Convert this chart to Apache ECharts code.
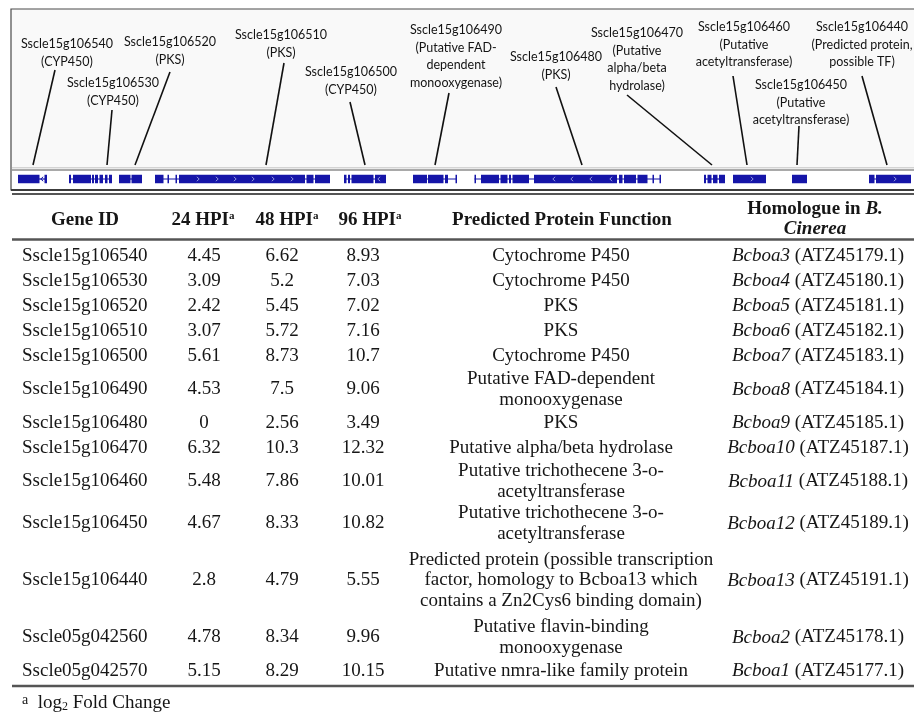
<!DOCTYPE html>
<html>
<head>
<meta charset="utf-8">
<script src="https://cdn.jsdelivr.net/npm/echarts@6/dist/echarts.min.js"></script>
<style>
  html, body { margin: 0; padding: 0; background: #ffffff; }
  #main { width: 914px; height: 713px; }
</style>
</head>
<body>
<div id="main"></div>
<script>
// ---- Gene models along the locus (track position units) ----
const exons106540 = [[18, 39.5], [44.5, 47]];
const exons106530 = [[69, 71], [73, 91], [92, 94], [95, 98], [99.5, 103], [105, 107.5], [109, 112]];
const exons106520 = [[119, 130.5], [131.5, 142]];
const exons106510 = [[155, 163.5], [167.5, 169], [175.5, 177], [179, 305], [306.5, 313.5], [315, 330]];
const exons106500 = [[344, 346.5], [348, 350], [351.5, 373.5], [375, 386]];
const exons106490 = [[413, 427], [428, 443.5], [445, 448], [455.5, 457]];
const exons106480 = [[474.5, 476], [481, 499], [500.5, 507.5], [509, 511], [512.5, 529], [534, 617],
                     [619, 622.5], [624, 636], [637.5, 647.5], [652.5, 654], [659.5, 661]];
const exons106470 = [[704, 706], [707.5, 711.5], [713, 717.5], [719, 725]];
const exons106460 = [[733, 766]];
const exons106450 = [[792, 807]];
const exons106440 = [[869, 874.5], [876, 911]];
const trackGenes = [exons106540, exons106530, exons106520, exons106510, exons106500, exons106490,
                    exons106480, exons106470, exons106460, exons106450, exons106440];

// strand chevrons: [position, direction]
const strandArrows = [[42, -1], [198, 1], [217, 1], [235, 1], [253, 1], [273, 1], [292, 1], [379, -1],
                      [554, -1], [572, -1], [591, -1], [611, -1], [752, 1], [895, 1]];

// callout anchor on the track for each annotated gene
const calloutAnchors = [33, 107, 135, 266, 365, 435, 582, 712, 747, 797, 887];
const calloutText = [
  ['Sscle15g106540', '(CYP450)'],
  ['Sscle15g106530', '(CYP450)'],
  ['Sscle15g106520', '(PKS)'],
  ['Sscle15g106510', '(PKS)'],
  ['Sscle15g106500', '(CYP450)'],
  ['Sscle15g106490', '(Putative FAD-', 'dependent', 'monooxygenase)'],
  ['Sscle15g106480', '(PKS)'],
  ['Sscle15g106470', '(Putative', 'alpha/beta', 'hydrolase)'],
  ['Sscle15g106460', '(Putative', 'acetyltransferase)'],
  ['Sscle15g106450', '(Putative', 'acetyltransferase)'],
  ['Sscle15g106440', '(Predicted protein,', 'possible TF)']
];

// ---- Expression table ----
const geneIds = ['Sscle15g106540', 'Sscle15g106530', 'Sscle15g106520', 'Sscle15g106510', 'Sscle15g106500',
                 'Sscle15g106490', 'Sscle15g106480', 'Sscle15g106470', 'Sscle15g106460', 'Sscle15g106450',
                 'Sscle15g106440', 'Sscle05g042560', 'Sscle05g042570'];
const hpi24 = [4.45, 3.09, 2.42, 3.07, 5.61, 4.53, 0, 6.32, 5.48, 4.67, 2.8, 4.78, 5.15];
const hpi48 = [6.62, 5.2, 5.45, 5.72, 8.73, 7.5, 2.56, 10.3, 7.86, 8.33, 4.79, 8.34, 8.29];
const hpi96 = [8.93, 7.03, 7.02, 7.16, 10.7, 9.06, 3.49, 12.32, 10.01, 10.82, 5.55, 9.96, 10.15];
const proteinFunction = [
  ['Cytochrome P450'],
  ['Cytochrome P450'],
  ['PKS'],
  ['PKS'],
  ['Cytochrome P450'],
  ['Putative FAD-dependent', 'monooxygenase'],
  ['PKS'],
  ['Putative alpha/beta hydrolase'],
  ['Putative trichothecene 3-o-', 'acetyltransferase'],
  ['Putative trichothecene 3-o-', 'acetyltransferase'],
  ['Predicted protein (possible transcription', 'factor, homology to Bcboa13 which', 'contains a Zn2Cys6 binding domain)'],
  ['Putative flavin-binding', 'monooxygenase'],
  ['Putative nmra-like family protein']
];
const homologueGene = ['Bcboa3', 'Bcboa4', 'Bcboa5', 'Bcboa6', 'Bcboa7', 'Bcboa8', 'Bcboa9',
                       'Bcboa10', 'Bcboa11', 'Bcboa12', 'Bcboa13', 'Bcboa2', 'Bcboa1'];
const homologueAccession = ['ATZ45179.1', 'ATZ45180.1', 'ATZ45181.1', 'ATZ45182.1', 'ATZ45183.1',
                            'ATZ45184.1', 'ATZ45185.1', 'ATZ45187.1', 'ATZ45188.1', 'ATZ45189.1',
                            'ATZ45191.1', 'ATZ45178.1', 'ATZ45177.1'];
const headerLabels = ['Gene ID', '24 HPI', '48 HPI', '96 HPI', 'Predicted Protein Function'];

// ---- Layout ----
const W = 914, H = 713;
const EXON_COLOR = '#1515a8';
const TRACK_Y = 179, EXON_H = 8.5, LEADER_END_Y = 165;
const SANS = 'Lato, "Open Sans", sans-serif';
const SERIF = '"Liberation Serif", "Times New Roman", serif';
const TEXT_COLOR = '#161616';
const RULE_COLOR = '#555555';
// label centre x, first line y, leader start x, leader start y
const calloutLayout = [[67, 44, 55, 70], [113, 83, 112, 110], [170, 42, 170, 72], [281, 35, 284, 63],
                       [351, 72, 350, 102], [456, 30, 449, 93], [556, 57, 556, 87], [637, 33, 627, 95],
                       [744, 27, 733, 76], [801, 85, 799, 126], [862, 27, 862, 76]];
const CALLOUT_LH = 17.5;
const TABLE_TOP_RULE = 194, HEADER_RULE = 239.5, FIRST_ROW_TOP = 243.5;
const COL_GENE_X = 22, COL_24 = 204, COL_48 = 282, COL_96 = 363, COL_FUNC = 561, COL_HOMO = 818;
const FONT_SIZE = 19, CELL_LH = 20.5;
// row height by number of text lines in the row
const ROW_H_BY_LINES = { 1: 25, 2: 42, 3: 72 };

const rowCenters = [];
let acc = FIRST_ROW_TOP;
proteinFunction.forEach(f => { const h = ROW_H_BY_LINES[f.length]; rowCenters.push(acc + h / 2); acc += h; });
const tableBottom = acc + 2.5;

// flattened exon list
const exonData = [];
trackGenes.forEach((ex, g) => ex.forEach(e => exonData.push([e[0], e[1], g])));
const backboneData = trackGenes.map((ex, g) => [ex[0][0], ex[ex.length - 1][1], g]);
function insideExon(p) { return exonData.some(e => p >= e[0] && p <= e[1]); }

const chart = echarts.init(document.getElementById('main'), null, { renderer: 'canvas' });

const option = {
  animation: false,
  backgroundColor: '#ffffff',
  grid: { left: 0, right: 0, top: 0, bottom: 0 },
  xAxis: { type: 'value', min: 0, max: W, show: false },
  yAxis: { type: 'value', min: 0, max: H, inverse: true, show: false },
  graphic: [
    // annotation panel
    { type: 'rect', z: 0, shape: { x: 11, y: 9, width: W + 20, height: 181 },
      style: { fill: '#f9f9f9', stroke: '#4a4a4a', lineWidth: 1.2 } },
    { type: 'rect', z: 0, shape: { x: 12, y: 170.5, width: W, height: 18.5 }, style: { fill: '#ffffff' } },
    { type: 'line', z: 1, shape: { x1: 12, y1: 167.8, x2: W, y2: 167.8 }, style: { stroke: '#c6c6c6', lineWidth: 1 } },
    { type: 'line', z: 1, shape: { x1: 12, y1: 170, x2: W, y2: 170 }, style: { stroke: '#8e8e8e', lineWidth: 1.4 } },
    { type: 'line', z: 1, shape: { x1: 11, y1: 190, x2: W, y2: 190 }, style: { stroke: '#3c3c3c', lineWidth: 1.8 } },
    // table rules
    { type: 'line', z: 1, shape: { x1: 12, y1: TABLE_TOP_RULE, x2: W, y2: TABLE_TOP_RULE }, style: { stroke: RULE_COLOR, lineWidth: 2 } },
    { type: 'line', z: 1, shape: { x1: 12, y1: HEADER_RULE, x2: W, y2: HEADER_RULE }, style: { stroke: RULE_COLOR, lineWidth: 2.5 } },
    { type: 'line', z: 1, shape: { x1: 12, y1: tableBottom, x2: W, y2: tableBottom }, style: { stroke: RULE_COLOR, lineWidth: 2.5 } },
    // header cells
    { type: 'text', z: 5, style: { text: headerLabels[0], x: 85, y: 220, align: 'center', verticalAlign: 'middle',
      fontFamily: SERIF, fontSize: FONT_SIZE, fontWeight: 'bold', fill: TEXT_COLOR } },
    ...[[headerLabels[1], 203], [headerLabels[2], 287], [headerLabels[3], 370]].map(([t, x]) => ({
      type: 'text', z: 5,
      style: { text: t + '{s|a}', x: x, y: 220, align: 'center', verticalAlign: 'middle',
        fontFamily: SERIF, fontSize: FONT_SIZE, fontWeight: 'bold', fill: TEXT_COLOR,
        rich: { s: { fontFamily: SERIF, fontSize: 11, fontWeight: 'bold', fill: TEXT_COLOR, verticalAlign: 'top' } } }
    })),
    { type: 'text', z: 5, style: { text: headerLabels[4], x: 562, y: 220, align: 'center', verticalAlign: 'middle',
      fontFamily: SERIF, fontSize: FONT_SIZE, fontWeight: 'bold', fill: TEXT_COLOR } },
    { type: 'text', z: 5, style: { text: 'Homologue in {bi|B.}\n{bi|Cinerea}', x: 815, y: 219, align: 'center', verticalAlign: 'middle',
      fontFamily: SERIF, fontSize: FONT_SIZE, fontWeight: 'bold', fill: TEXT_COLOR, lineHeight: 20,
      rich: { bi: { fontFamily: SERIF, fontSize: FONT_SIZE, fontWeight: 'bold', fontStyle: 'italic', fill: TEXT_COLOR, lineHeight: 20 } } } },
    // footnote
    { type: 'text', z: 5, style: { text: '{s|a}  log{sub|2} Fold Change', x: 22, y: 703, align: 'left', verticalAlign: 'middle',
      fontFamily: SERIF, fontSize: FONT_SIZE, fill: TEXT_COLOR,
      rich: {
        s: { fontFamily: SERIF, fontSize: 14, fill: TEXT_COLOR, verticalAlign: 'top' },
        sub: { fontFamily: SERIF, fontSize: 12, fill: TEXT_COLOR, verticalAlign: 'bottom' }
      } } }
  ],
  series: [
    {
      // intron backbone of each gene
      type: 'custom', name: 'introns', coordinateSystem: 'cartesian2d', z: 3,
      data: backboneData,
      renderItem: (params, api) => {
        const a = api.coord([api.value(0), TRACK_Y]);
        const b = api.coord([api.value(1), TRACK_Y]);
        return { type: 'line', shape: { x1: a[0], y1: a[1], x2: b[0], y2: b[1] },
          style: { stroke: EXON_COLOR, lineWidth: 1.2 } };
      }
    },
    {
      // exon blocks
      type: 'custom', name: 'exons', coordinateSystem: 'cartesian2d', z: 4,
      data: exonData,
      renderItem: (params, api) => {
        const a = api.coord([api.value(0), TRACK_Y]);
        const b = api.coord([api.value(1), TRACK_Y]);
        return { type: 'rect', shape: { x: a[0], y: a[1] - EXON_H / 2, width: Math.max(1.2, b[0] - a[0]), height: EXON_H },
          style: { fill: EXON_COLOR } };
      }
    },
    {
      // strand chevrons
      type: 'custom', name: 'strand', coordinateSystem: 'cartesian2d', z: 5,
      data: strandArrows,
      renderItem: (params, api) => {
        const p = api.coord([api.value(0), TRACK_Y]);
        const d = api.value(1);
        const inEx = insideExon(api.value(0));
        return { type: 'polyline',
          shape: { points: [[p[0] - 1.2 * d, p[1] - 2.2], [p[0] + 1.2 * d, p[1]], [p[0] - 1.2 * d, p[1] + 2.2]] },
          style: { stroke: inEx ? '#8f93dc' : EXON_COLOR, lineWidth: 1, fill: null } };
      }
    },
    {
      // gene callouts with leader lines
      type: 'custom', name: 'callouts', coordinateSystem: 'cartesian2d', z: 6,
      data: calloutAnchors.map((a, i) => [a, i]),
      renderItem: (params, api) => {
        const i = params.dataIndex;
        const L = calloutLayout[i];
        const end = api.coord([api.value(0), LEADER_END_Y]);
        const start = api.coord([L[2], L[3]]);
        const lbl = api.coord([L[0], L[1] - CALLOUT_LH / 2]);
        return { type: 'group', children: [
          { type: 'line', shape: { x1: start[0], y1: start[1], x2: end[0], y2: end[1] },
            style: { stroke: '#111111', lineWidth: 1.6 } },
          { type: 'text', style: { text: calloutText[i].join('\n'), x: lbl[0], y: lbl[1], align: 'center',
            verticalAlign: 'top', lineHeight: CALLOUT_LH, fontFamily: SANS, fontSize: 12.5, fill: '#141414' } }
        ] };
      }
    },
    {
      // expression table rows
      type: 'custom', name: 'table', coordinateSystem: 'cartesian2d', z: 6,
      data: geneIds.map((g, i) => [i]),
      renderItem: (params, api) => {
        const i = params.dataIndex;
        const y = rowCenters[i];
        const base = { fontFamily: SERIF, fontSize: FONT_SIZE, fill: TEXT_COLOR, verticalAlign: 'middle' };
        const cell = (x, text, align, extra) => {
          const p = api.coord([x, y]);
          return { type: 'text', style: Object.assign({}, base, { text: text, x: p[0], y: p[1], align: align }, extra || {}) };
        };
        return { type: 'group', children: [
          cell(COL_GENE_X, geneIds[i], 'left'),
          cell(COL_24, String(hpi24[i]), 'center'),
          cell(COL_48, String(hpi48[i]), 'center'),
          cell(COL_96, String(hpi96[i]), 'center'),
          cell(COL_FUNC, proteinFunction[i].join('\n'), 'center', { lineHeight: CELL_LH }),
          cell(COL_HOMO, '{it|' + homologueGene[i] + '} (' + homologueAccession[i] + ')', 'center',
            { rich: { it: { fontFamily: SERIF, fontSize: FONT_SIZE, fontStyle: 'italic', fill: TEXT_COLOR } } })
        ] };
      }
    }
  ]
};

chart.setOption(option);
</script>
</body>
</html>
